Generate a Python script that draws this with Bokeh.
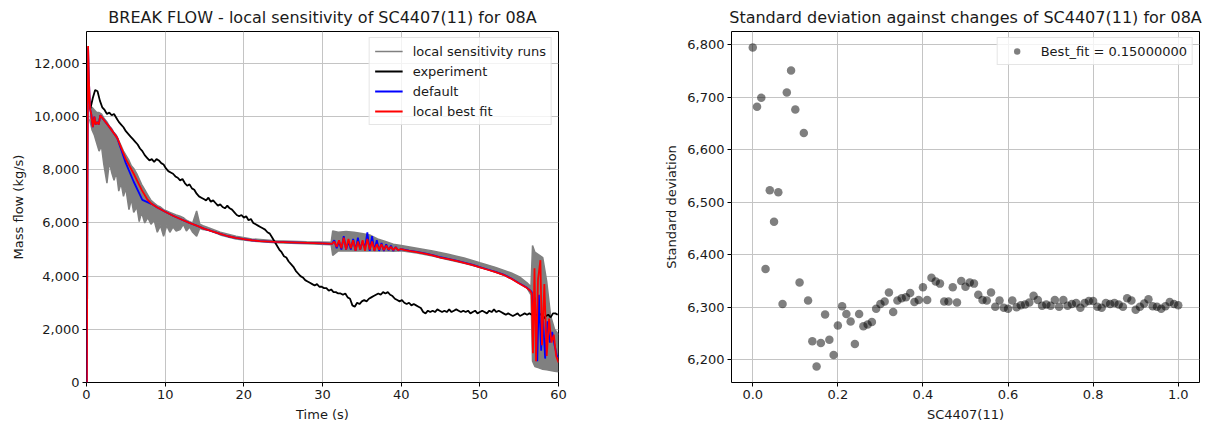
from bokeh.plotting import figure
from bokeh.layouts import row
from bokeh.models import Range1d, NumeralTickFormatter, FixedTicker, Legend, LegendItem
from bokeh.embed import file_html
from bokeh.resources import INLINE

# ---------------- data: left chart (break flow) ----------------
# experiment, sampled every 0.3 s starting at 0.5 s
exp_v = [10300, 10700, 11000, 10950, 10600, 10350,
         10250, 10100, 10150, 10050, 10100, 9950, 9800, 9700, 9600, 9450,
         9350, 9250, 9150, 9050, 8950, 8800, 8700, 8550, 8450, 8350,
         8400, 8300, 8400, 8350, 8250, 8200, 8050, 7950, 7900, 7850,
         7750, 7700, 7600, 7650, 7500, 7400, 7450, 7300, 7250, 7100,
         7000, 6950, 6900, 6850, 6950, 6800, 6850, 6750, 6650, 6700,
         6600, 6550, 6650, 6550, 6500, 6400, 6300, 6250, 6300, 6200,
         6250, 6100, 6150, 6000, 5950, 5900, 5850, 5800, 5750, 5650,
         5600, 5450, 5300, 5150, 5000, 4900, 4750, 4700, 4550, 4450,
         4350, 4200, 4100, 4000, 3950, 3850, 3800, 3750, 3700, 3650,
         3700, 3600, 3600, 3550, 3550, 3450, 3500, 3400, 3400, 3350,
         3350, 3300, 3350, 3200, 3150, 2900, 2850, 3000, 2950, 3050,
         3100, 3050, 3150, 3200, 3250, 3300, 3350, 3300, 3400, 3350,
         3400, 3300, 3250, 3150, 3100, 3050, 3100, 3000, 2950, 3000,
         2900, 2950, 2900, 2850, 2800, 2650, 2600, 2700, 2650, 2700,
         2650, 2750, 2700, 2650, 2700, 2650, 2750, 2650, 2700, 2750,
         2700, 2650, 2700, 2650, 2700, 2600, 2650, 2700, 2600, 2650,
         2700, 2650, 2600, 2700, 2650, 2750, 2650, 2700, 2650, 2600,
         2550, 2600, 2550, 2500, 2550, 2600, 2500, 2550, 2600, 2550,
         2600, 2550, 2650, 2500, 2600, 2550, 2400, 2500, 2550, 2450,
         2600, 2600, 2550]
exp_t = [round(0.5 + 0.3 * i, 1) for i in range(len(exp_v))]

# local best fit
red_t = [0.05, 0.12, 0.2, 0.3, 0.45, 0.6, 0.8, 1.0, 1.15, 1.35, 1.55, 1.75, 2.8, 3.9,
         5.0, 6.0, 7.0, 7.7, 8.3, 9, 10, 11, 12, 13, 14, 15, 16, 17, 18, 19, 20, 21, 22,
         24, 26, 28, 30, 31.2,
         31.5, 31.8, 32.1, 32.4, 32.7, 33.0, 33.3, 33.6, 33.9, 34.2, 34.5, 34.8, 35.1,
         35.4, 35.7, 36.0, 36.3, 36.6, 36.9, 37.2, 37.5, 37.8, 38.1, 38.4, 38.7, 39.0,
         39.3, 39.6, 40.0,
         40.5, 41, 42, 43, 44, 45, 46, 47, 48, 49, 50, 51, 52, 53, 54, 55, 55.5, 56, 56.4, 56.6,
         56.75, 56.95, 57.15, 57.4, 57.7, 57.9, 58.2, 58.5, 58.8, 59.1, 59.4, 59.7, 60.0]
red_v = [0, 7000, 12650, 11400, 10300, 10100, 9600, 10000, 9700, 9800, 9700, 10050, 9650, 9200,
         8400, 7850, 7250, 6900, 6710, 6580, 6420, 6270, 6140, 6010, 5900, 5780, 5680, 5590,
         5500, 5440, 5390, 5350, 5320, 5290, 5270, 5250, 5230, 5210,
         5300, 5100, 5350, 5050, 5450, 5000, 5400, 5050, 5350, 4950, 5300, 5000, 5350,
         4950, 5400, 5000, 5300, 4950, 5200, 5000, 5200, 4980, 5150, 5000, 5100, 4980,
         5080, 4980, 5020,
         4980, 4950, 4900, 4850, 4780, 4700, 4640, 4570, 4500, 4420, 4330, 4240, 4150, 4050,
         3900, 3720, 3640, 3550, 3450, 3350,
         1100, 4300, 800, 3900, 4600, 1400, 3700, 1000, 2400, 1500, 1800, 1000, 750]

# default
blue_t = [0.05, 0.12, 0.2, 0.3, 0.45, 0.6, 0.8, 1.0, 1.15, 1.35, 1.55, 1.75, 2.8, 3.9,
          5.0, 6.0, 7.1, 8.3, 9, 10, 11, 12, 13, 14, 15, 16, 17, 18, 19, 20, 21, 22,
          24, 26, 28, 30, 31.2,
          31.5, 31.8, 32.1, 32.4, 32.7, 33.0, 33.3, 33.6, 33.9, 34.2, 34.5, 34.8, 35.1,
          35.4, 35.7, 36.0, 36.3, 36.6, 36.9, 37.2, 37.5, 37.8, 38.1, 38.4, 38.7, 39.0,
          39.3, 39.6, 40.0,
          40.5, 41, 42, 43, 44, 45, 46, 47, 48, 49, 50, 51, 52, 53, 54, 55, 55.5, 56, 56.4, 56.6,
          56.8, 57.0, 57.3, 57.5, 57.8, 58.0, 58.3, 58.6, 58.9, 59.2, 59.5, 59.8, 60.0]
blue_v = [0, 7000, 12600, 11400, 10300, 10100, 9600, 10000, 9700, 9800, 9700, 10050, 9650, 9200,
          8250, 7550, 6870, 6710, 6580, 6420, 6270, 6140, 6010, 5900, 5780, 5680, 5590,
          5500, 5440, 5390, 5350, 5320, 5290, 5270, 5250, 5230, 5210,
          5350, 5050, 5300, 5000, 5500, 5000, 5300, 5000, 5400, 4950, 5450, 5000, 5300,
          5050, 5650, 4950, 5500, 4950, 5350, 4950, 5250, 4950, 5200, 4970, 5150, 4950,
          5100, 4970, 5020,
          4990, 4960, 4910, 4860, 4790, 4710, 4650, 4580, 4510, 4430, 4340, 4250, 4160, 4060,
          3910, 3730, 3650, 3560, 3460, 3400,
          2500, 3200, 800, 3300, 1200, 2600, 900, 2300, 1500, 1900, 1400, 1000, 950]

# envelope of the local sensitivity runs
band_t = [0.4, 0.7, 1.0, 1.3, 1.6, 1.9, 2.2, 2.6, 2.9, 3.2, 3.5, 3.8, 4.1, 4.4, 4.7, 5.0,
          5.4, 5.7, 6.0, 6.4, 6.7, 7.0, 7.4, 7.8, 8.2, 8.6, 9.0, 9.4, 9.8, 10.2, 10.6, 11.0,
          11.4, 11.9, 12.3, 12.7, 13.1, 13.5, 14.0, 14.4, 14.8, 15.5, 17.0, 19.0, 21.0, 24.0,
          28.0, 31.1, 31.3, 32.0, 33.0, 34.0, 35.0, 36.0, 37.0, 38.0, 39.0, 40.0, 42.0, 44.0,
          46.0, 48.0, 50.0, 52.0, 54.0, 55.0, 56.0, 56.5, 56.7, 57.0, 57.5, 58.0, 58.5, 59.0,
          59.5, 60.0]
band_hi = [10300, 10350, 10250, 10150, 10150, 10100, 9950, 9800, 9650, 9550, 9400, 9300,
           9100, 8900, 8700, 8550, 8350, 8150, 8050, 7850, 7650, 7450, 7250, 7050, 6850,
           6750, 6650, 6600, 6500, 6450, 6400, 6350, 6300, 6250, 6200, 6100, 6050, 6000,
           6450, 5950, 5900, 5820, 5650, 5500, 5400, 5330, 5290, 5270, 5700, 5650, 5680,
           5650, 5600, 5550, 5400, 5300, 5200, 5150, 5050, 4950, 4820, 4680, 4500, 4330,
           4120, 3980, 3750, 3600, 5150, 4900, 4800, 4700, 3800, 2500, 2000, 1800]
band_lo = [9900, 9500, 9300, 9000, 8700, 8900, 8200, 7500, 8300, 7900, 7600, 7900, 7200,
           7500, 7000, 7300, 6500, 6900, 6400, 6600, 6050, 6400, 6000, 6200, 5950, 6100,
           5650, 5900, 5500, 5900, 5650, 5850, 5700, 5750, 5950, 5700, 5850, 5650, 5500,
           5800, 5750, 5730, 5550, 5400, 5320, 5260, 5220, 5180, 4780, 4950, 4950, 4950,
           4950, 4950, 4950, 4950, 4940, 4950, 4870, 4760, 4620, 4480, 4330, 4150, 3930,
           3780, 3550, 3300, 800, 600, 550, 500, 480, 450, 420, 400]

x_ticks_l = [0, 10, 20, 30, 40, 50, 60]
y_ticks_l = [0, 2000, 4000, 6000, 8000, 10000, 12000]

# ---------------- data: right chart (standard deviation) ----------------
sc_x = [i / 100 for i in range(101)]
sc_v = [6795, 6682, 6699, 6373, 6523, 6463, 6519, 6306, 6709, 6751,
        6677, 6347, 6632, 6313, 6235, 6187, 6232, 6286, 6238, 6209,
        6265, 6302, 6287, 6273, 6230, 6287, 6264, 6267, 6272, 6297,
        6306, 6311, 6328, 6291, 6313, 6317, 6319, 6327, 6310, 6314,
        6338, 6314, 6356, 6349, 6345, 6311, 6311, 6338, 6309, 6350,
        6339, 6347, 6345, 6324, 6314, 6313, 6328, 6301, 6313, 6299,
        6297, 6313, 6300, 6304, 6305, 6309, 6322, 6314, 6303, 6305,
        6303, 6314, 6301, 6314, 6303, 6306, 6308, 6299, 6308, 6312,
        6312, 6301, 6299, 6308, 6306, 6308, 6305, 6301, 6317, 6313,
        6295, 6301, 6307, 6315, 6302, 6301, 6297, 6302, 6310, 6306, 6304]
x_ticks_r = [0.0, 0.2, 0.4, 0.6, 0.8, 1.0]
y_ticks_r = [6200, 6300, 6400, 6500, 6600, 6700, 6800]

FONT = "DejaVu Sans"
TXT = "#1a1a1a"


def style(p):
    p.title.text_font = FONT
    p.title.text_font_size = "16px"
    p.title.text_font_style = "normal"
    p.title.text_color = TXT
    p.title.align = "center"
    p.outline_line_color = "black"
    p.outline_line_width = 1
    p.background_fill_color = "white"
    p.border_fill_color = "white"
    for ax in (p.xaxis[0], p.yaxis[0]):
        ax.axis_line_color = None
        ax.major_tick_line_color = "black"
        ax.major_tick_out = 4
        ax.major_tick_in = 0
        ax.minor_tick_line_color = None
        ax.major_label_text_font = FONT
        ax.major_label_text_font_size = "13px"
        ax.major_label_text_color = TXT
        ax.major_label_standoff = 3
        ax.axis_label_text_font = FONT
        ax.axis_label_text_font_size = "13px"
        ax.axis_label_text_font_style = "normal"
        ax.axis_label_text_color = TXT
        ax.axis_label_standoff = 5
    p.grid.grid_line_color = "#c4c4c4"
    p.grid.grid_line_width = 1


def make_legend(items):
    lg = Legend(items=items, location="top_right")
    lg.label_text_font = FONT
    lg.label_text_font_size = "13px"
    lg.label_text_color = TXT
    lg.glyph_width = 28
    lg.glyph_height = 16
    lg.label_height = 16
    lg.spacing = 4
    lg.padding = 5
    lg.label_standoff = 10
    lg.margin = 6
    lg.border_line_color = "#cccccc"
    lg.border_line_width = 1
    lg.background_fill_alpha = 0.8
    return lg


# ---------------- left figure ----------------
p1 = figure(width=600, height=427, output_backend="svg", toolbar_location=None,
            x_range=Range1d(0, 60), y_range=Range1d(0, 13200),
            min_border_left=86, min_border_right=42, min_border_top=31, min_border_bottom=45,
            title="BREAK FLOW - local sensitivity of SC4407(11) for 08A")
style(p1)
p1.xaxis.axis_label = "Time (s)"
p1.yaxis.axis_label = "Mass flow (kg/s)"
p1.xaxis.ticker = FixedTicker(ticks=x_ticks_l)
p1.yaxis.ticker = FixedTicker(ticks=y_ticks_l)
p1.yaxis.formatter = NumeralTickFormatter(format="0,0")

p1.varea(x=band_t, y1=band_lo, y2=band_hi, fill_color="#808080")
g_hi = p1.line(band_t, band_hi, line_color="#808080", line_width=1.5)
p1.line(band_t, band_lo, line_color="#808080", line_width=1.5)
blk = p1.line(exp_t, exp_v, line_color="black", line_width=1.8)
blu = p1.line(blue_t, blue_v, line_color="#0000ff", line_width=1.8)
rd = p1.line(red_t, red_v, line_color="#ff0000", line_width=1.8)

p1.add_layout(make_legend([
    LegendItem(label="local sensitivity runs", renderers=[g_hi]),
    LegendItem(label="experiment", renderers=[blk]),
    LegendItem(label="default", renderers=[blu]),
    LegendItem(label="local best fit", renderers=[rd]),
]))

# ---------------- right figure ----------------
pad_x = 0.05 * (max(sc_x) - min(sc_x))
pad_y = 0.05 * (max(sc_v) - min(sc_v))
p2 = figure(width=606, height=427, output_backend="svg", toolbar_location=None,
            x_range=Range1d(min(sc_x) - pad_x, max(sc_x) + pad_x),
            y_range=Range1d(min(sc_v) - pad_y, max(sc_v) + pad_y),
            min_border_left=131, min_border_right=7, min_border_top=31, min_border_bottom=45,
            title="Standard deviation against changes of SC4407(11) for 08A")
style(p2)
p2.xaxis.axis_label = "SC4407(11)"
p2.yaxis.axis_label = "Standard deviation"
p2.xaxis.ticker = FixedTicker(ticks=x_ticks_r)
p2.yaxis.ticker = FixedTicker(ticks=y_ticks_r)
p2.xaxis.formatter = NumeralTickFormatter(format="0.0")
p2.yaxis.formatter = NumeralTickFormatter(format="0,0")

sc = p2.scatter(sc_x, sc_v, size=8.5, fill_color="black", fill_alpha=0.5, line_color=None)
p2.add_layout(make_legend([LegendItem(label="Best_fit = 0.15000000", renderers=[sc])]))

layout = row(p1, p2)
open("out.html", "w").write(file_html(layout, INLINE))
